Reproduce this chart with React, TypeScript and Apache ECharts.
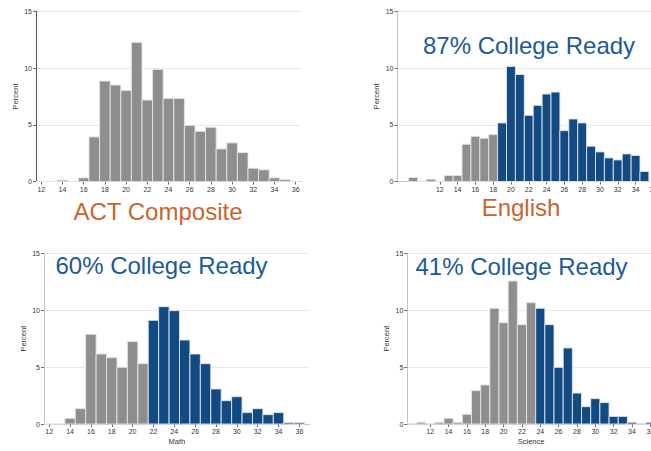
import React, { useEffect, useRef } from "react";
import * as echarts from "echarts";

// ---------- data ----------
const actScores = [12, 13, 14, 15, 16, 17, 18, 19, 20, 21, 22, 23, 24, 25, 26, 27, 28, 29, 30, 31, 32, 33, 34, 35, 36];
const actPercent = [0, 0, 0.12, 0, 0.32, 3.93, 8.85, 8.5, 8.03, 12.25, 7.18, 9.87, 7.32, 7.32, 4.95, 4.42, 4.78, 2.87, 3.4, 2.55, 1.17, 1.03, 0.32, 0.15, 0];

const engScores = [9, 10, 11, 12, 13, 14, 15, 16, 17, 18, 19, 20, 21, 22, 23, 24, 25, 26, 27, 28, 29, 30, 31, 32, 33, 34, 35, 36];
const engPercent = [0.35, 0.03, 0.2, 0.03, 0.53, 0.53, 3.28, 3.98, 3.81, 4.13, 5.16, 10.14, 9.43, 5.83, 6.71, 7.71, 7.88, 4.48, 5.51, 5.16, 3.11, 2.61, 2.08, 1.9, 2.43, 2.29, 0.88, 0];
const engReady = 19;

const mathScores = [12, 13, 14, 15, 16, 17, 18, 19, 20, 21, 22, 23, 24, 25, 26, 27, 28, 29, 30, 31, 32, 33, 34, 35, 36];
const mathPercent = [0, 0, 0.5, 1.35, 7.88, 6.15, 5.83, 4.98, 7.24, 5.3, 9.11, 10.31, 9.96, 7.38, 6.15, 5.3, 3.08, 2.05, 2.4, 1.0, 1.35, 0.82, 1.0, 0.12, 0.12];
const mathReady = 22;

const sciScores = [10, 11, 12, 13, 14, 15, 16, 17, 18, 19, 20, 21, 22, 23, 24, 25, 26, 27, 28, 29, 30, 31, 32, 33, 34, 35, 36];
const sciPercent = [0.03, 0.15, 0.03, 0.15, 0.5, 0.15, 0.85, 2.93, 3.43, 10.17, 8.9, 12.57, 8.73, 10.66, 10.17, 8.73, 4.98, 6.68, 2.72, 1.52, 2.23, 1.88, 0.67, 0.67, 0.15, 0.03, 0.15];
const sciReady = 24;

const xTickValues = [12, 14, 16, 18, 20, 22, 24, 26, 28, 30, 32, 34, 36];

const panelTitles = ["ACT Composite", "English"];
const readyTitles = ["87% College Ready", "60% College Ready", "41% College Ready"];
const xAxisNames = ["", "", "Math", "Science"];

// ---------- styles ----------
const GREY = "#8e8e8e";
const BLUE = "#124a84";
const ORANGE = "#c8652f";
const TITLE_BLUE = "#1c5a9c";
const FONT = "'Liberation Sans', Arial, Helvetica, sans-serif";

const panels = [
  { scores: actScores, values: actPercent, ready: 999, grid: { left: 36, top: 11.3, width: 265, height: 170.2 }, xMin: 11.5, xMax: 36.5, dark: true },
  { scores: engScores, values: engPercent, ready: engReady, grid: { left: 397.5, top: 11.3, width: 260.3, height: 170.2 }, xMin: 7.25, xMax: 36.5, dark: false },
  { scores: mathScores, values: mathPercent, ready: mathReady, grid: { left: 44, top: 253.3, width: 265.8, height: 170.7 }, xMin: 11.5, xMax: 37, dark: false },
  { scores: sciScores, values: sciPercent, ready: sciReady, grid: { left: 407.3, top: 253.3, width: 247.6, height: 170.7 }, xMin: 9.5, xMax: 36.5, dark: false },
];

export default function App() {
  const ref = useRef<HTMLDivElement>(null);

  useEffect(() => {
    if (!ref.current) return;
    const chart = echarts.init(ref.current, undefined, { renderer: "svg" });

    const grids = panels.map((p) => ({ ...p.grid, containLabel: false, outerBoundsMode: "none" }));

    const xAxes = panels.map((p, i) => ({
      type: "value",
      gridIndex: i,
      min: p.xMin,
      max: p.xMax,
      name: xAxisNames[i],
      nameLocation: "middle",
      nameGap: 13,
      nameTextStyle: { fontFamily: FONT, fontSize: 7.5, color: "#333" },
      axisLine: { show: true, lineStyle: { color: p.dark ? "#555" : "#c4c4c4", width: 1 } },
      axisTick: { show: true, length: 3, customValues: xTickValues, lineStyle: { color: "#444", width: 0.8 } },
      axisLabel: { customValues: xTickValues, fontFamily: FONT, fontSize: 7, color: "#333", margin: 4, hideOverlap: false },
      splitLine: { show: false },
    }));

    const yAxes = panels.map((p, i) => ({
      type: "value",
      gridIndex: i,
      min: 0,
      max: 15,
      interval: 5,
      name: "Percent",
      nameLocation: "middle",
      nameGap: 17,
      nameTextStyle: { fontFamily: FONT, fontSize: 7.5, color: "#333" },
      axisLine: { show: true, lineStyle: { color: p.dark ? "#555" : "#c4c4c4", width: 1 } },
      axisTick: { show: true, length: 3, lineStyle: { color: "#444", width: 0.8 } },
      axisLabel: { fontFamily: FONT, fontSize: 7, color: "#333", margin: 4 },
      splitLine: { show: true, lineStyle: { color: "#e9e9e9", width: 1 } },
    }));

    const series = panels.map((p, i) => ({
      type: "custom",
      xAxisIndex: i,
      yAxisIndex: i,
      clip: false,
      data: p.scores.map((s, j) => [s, p.values[j], s >= p.ready ? 1 : 0]),
      renderItem: (params: any, api: any) => {
        const x = api.value(0);
        const y = api.value(1);
        const blue = api.value(2) === 1;
        const p0 = api.coord([x - 0.5, y]);
        const p1 = api.coord([x + 0.5, 0]);
        return {
          type: "rect",
          shape: { x: p0[0], y: p0[1], width: p1[0] - p0[0], height: p1[1] - p0[1] },
          style: { fill: blue ? BLUE : GREY, stroke: "#e4e4e4", lineWidth: 0.9 },
        };
      },
    }));

    const bigFont = `24px ${FONT}`;
    const graphic = [
      { type: "text", x: 158, y: 211, style: { text: panelTitles[0], fill: ORANGE, font: bigFont, textAlign: "center", textVerticalAlign: "middle" } },
      { type: "text", x: 521, y: 207, style: { text: panelTitles[1], fill: ORANGE, font: bigFont, textAlign: "center", textVerticalAlign: "middle" } },
      { type: "text", x: 529, y: 45, style: { text: readyTitles[0], fill: TITLE_BLUE, font: bigFont, textAlign: "center", textVerticalAlign: "middle" } },
      { type: "text", x: 161.5, y: 265.5, style: { text: readyTitles[1], fill: TITLE_BLUE, font: bigFont, textAlign: "center", textVerticalAlign: "middle" } },
      { type: "text", x: 521.5, y: 266, style: { text: readyTitles[2], fill: TITLE_BLUE, font: bigFont, textAlign: "center", textVerticalAlign: "middle" } },
    ];

    chart.setOption({
      animation: false,
      backgroundColor: "#ffffff",
      grid: grids,
      xAxis: xAxes,
      yAxis: yAxes,
      series,
      graphic,
    } as any);

    return () => chart.dispose();
  }, []);

  return (
    <div
      ref={ref}
      style={{ position: "fixed", left: 0, top: 0, width: 651, height: 451, overflow: "hidden" }}
    />
  );
}
